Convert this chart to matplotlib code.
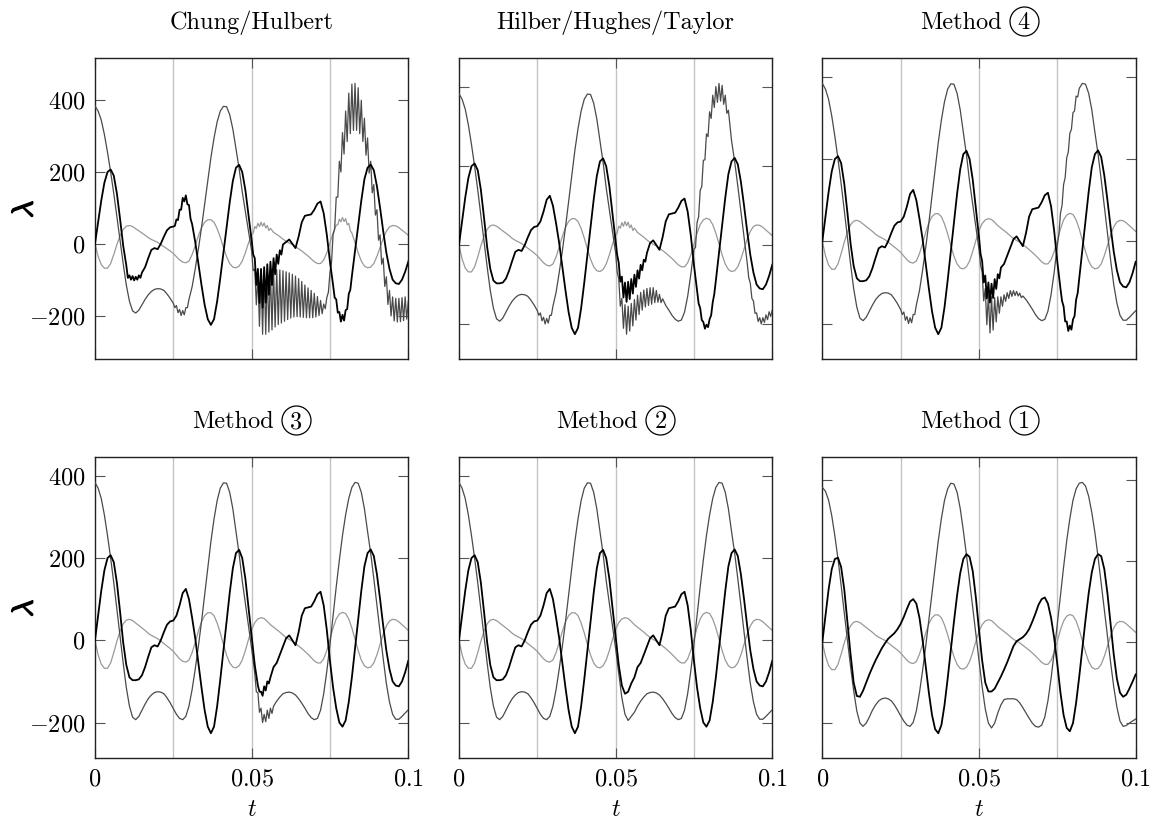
import matplotlib.pyplot as plt
import numpy as np
from matplotlib import patheffects
from matplotlib.lines import Line2D

plt.rcParams['mathtext.fontset'] = 'cm'
plt.rcParams['font.family'] = ['cmr10', 'DejaVu Sans']
plt.rcParams['axes.unicode_minus'] = False

# --- data: lambda components (step 1 ms) ---
t = np.linspace(0, 0.1, 101)

gray_all = [0, -35, -58, -68, -68, -55, -30, -2, 22, 40, 49, 51, 48, 42, 36, 30, 24, 17, 12, 8,
            4, -2, -8, -14, -20, -27, -36, -45, -51, -53, -48, -30, -5, 22, 45, 60, 67, 67, 60, 42,
            18, -10, -36, -55, -65, -67, -62, -48, -25, 2, 26, 43, 52, 55, 53, 46, 38, 32, 26, 20,
            13, 7, 2, -2, -8, -14, -20, -27, -34, -42, -50, -55, -55, -45, -25, 2, 30, 52, 64, 68,
            65, 52, 30, 3, -25, -48, -62, -67, -65, -55, -35, -10, 15, 35, 47, 51, 50, 45, 38, 31, 24]

dark_base = [384, 370, 345, 305, 255, 200, 140, 75, 10, -55, -115, -160, -187, -193, -185, -170, -155, -142, -133, -127,
             -125, -126, -130, -140, -152, -166, -180, -190, -193, -185, -160, -120, -70, -15, 45, 110, 175, 240, 295, 340,
             370, 383, 382, 360, 320, 265, 210, 145, 90, 35, -20, -80, -140, -180, -195, -185, -175, -160, -148, -138,
             -130, -127, -126, -128, -133, -142, -153, -165, -178, -188, -193, -190, -170, -130, -75, -10, 60, 130, 195, 255,
             305, 345, 372, 384, 382, 360, 320, 265, 212, 150, 85, 20, -45, -105, -150, -180, -192, -192, -185, -177, -169]

black_base = [0, 60, 120, 170, 200, 207, 190, 140, 70, -5, -60, -90, -97, -97, -95, -85, -65, -40, -17, -12,
              -15, 0, 20, 38, 46, 48, 60, 85, 115, 125, 100, 55, 5, -55, -115, -170, -210, -226, -210, -160,
              -95, -25, 45, 115, 175, 212, 220, 200, 150, 80, 10, -60, -110, -130, -125, -105, -90, -65, -55, -35,
              -15, 5, 12, 0, -12, 20, 60, 78, 80, 82, 95, 112, 118, 85, 25, -50, -115, -165, -200, -210,
              -195, -150, -90, -20, 50, 120, 180, 212, 221, 205, 160, 100, 35, -25, -70, -100, -110, -112, -100, -78, -50]

dark_m1 = [382, 372, 350, 312, 262, 205, 140, 72, 5, -60, -120, -170, -200, -208, -200, -185, -168, -155, -145, -140,
           -138, -140, -145, -155, -168, -182, -195, -205, -208, -198, -170, -125, -70, -10, 55, 120, 185, 250, 305, 350,
           378, 392, 390, 370, 330, 275, 215, 150, 85, 20, -45, -110, -165, -200, -212, -200, -175, -155, -142, -140,
           -140, -140, -142, -150, -162, -175, -188, -200, -208, -210, -205, -185, -145, -90, -25, 45, 115, 185, 250, 305,
           350, 378, 392, 394, 385, 360, 320, 270, 210, 145, 80, 15, -50, -110, -160, -195, -208, -206, -200, -195, -190]

black_m1 = [0, 65, 130, 180, 205, 208, 185, 130, 50, -30, -100, -133, -135, -120, -100, -80, -62, -45, -30, -15,
            -3, 8, 15, 22, 32, 45, 62, 82, 100, 106, 95, 60, 5, -60, -125, -180, -215, -225, -205, -155,
            -90, -20, 50, 115, 170, 205, 217, 210, 175, 110, 30, -45, -100, -122, -122, -115, -100, -85, -68, -50,
            -30, -10, 2, 7, 12, 20, 32, 50, 70, 92, 106, 110, 95, 60, 10, -55, -125, -180, -212, -220,
            -200, -150, -85, -15, 55, 120, 172, 205, 217, 212, 180, 120, 45, -30, -90, -125, -135, -130, -115, -98, -80]

# noisy stretches (start time, values every 0.5 ms)
dark_trough_noise = (0.0255, [-178, -172, -192, -183, -200, -186, -198, -178, -178, -155])
dark_chung = [dark_trough_noise,
              (0.0505, [-75, -70, -170, -90, -230, -80, -252, -75, -252, -74, -246, -73, -240, -73, -232, -72,
                        -225, -73, -221, -75, -216, -78, -211, -81, -207, -85, -204, -90, -203, -97, -204, -105,
                        -205, -115, -206, -123, -206, -130, -206, -138, -204, -147, -200, -158, -195, -168, -181,
                        -150, -135, -80, -52, 25, 42, 130, 130, 230, 200, 310, 250, 370, 285, 420, 307, 445, 316,
                        447, 316, 435, 307, 400, 285, 350, 247, 295, 197, 230, 142, 165, 80, 95, 10, 25, -57, -40,
                        -119, -92, -169, -130, -201, -148, -215, -152, -218, -152, -217, -150, -214, -148, -210,
                        -160])]
black_chung = [(0.0105, [-95, -88, -100, -90, -102, -92, -100, -88, -95, -80]),
               (0.0255, [50, 68, 66, 95, 95, 128, 118, 135, 110, 108, 70]),
               (0.0505, [-30, -40, -115, -70, -165, -70, -178, -65, -164, -57, -142, -50, -115, -40, -85, -30,
                         -56, -18, -30, -2]),
               (0.0765, [-150, -155, -192, -190, -217, -198, -214, -185, -182, -140, -128])]
dark_hht = [dark_trough_noise,
            (0.0505, [-68, -85, -155, -135, -211, -151, -226, -155, -218, -148, -205, -138, -190, -127, -176,
                      -120, -165, -114, -157, -110, -153, -108, -150, -108, -146, -115, -145, -125, -146, -136]),
            (0.0755, [-6, 57, 72, 139, 148, 215, 216, 282, 275, 338, 321, 380, 349, 402, 362, 410, 365, 405, 357,
                      380, 334, 342]),
            (0.0925, [-83, -97, -135, -142, -173, -172, -194, -184, -200, -184, -196, -177, -189, -169, -181, -165])]
black_hht = [(0.0505, [-25, -45, -93, -80, -133, -95, -144, -93, -137, -86, -123, -75, -106, -64, -85, -50, -64,
                       -37, -42, -20]),
             (0.0765, [-148, -160, -190, -195, -212, -202, -208, -188, -178, -145, -124])]
dark_m4 = [dark_trough_noise,
           (0.0505, [-58, -75, -145, -115, -203, -130, -223, -135, -216, -137, -196, -135, -175, -135, -158, -130,
                     -146, -125, -139, -120, -134, -120, -132, -122, -133, -126, -137, -133]),
           (0.0755, [17, 68, 87, 138, 155, 203, 217, 263, 272, 313, 317, 353, 351])]
black_m4 = [(0.0505, [-31, -48, -100, -83, -139, -100, -149, -103, -138, -92, -116, -80, -90, -64]),
            (0.0765, [-145, -158, -195, -195, -218, -205, -215, -190, -182, -142, -126])]
dark_m3 = [(0.0515, [-125, -128, -175, -165, -200, -180, -198, -170, -190, -165, -178])]
black_m3 = [(0.0525, [-125, -125, -135, -112, -122, -100, -105])]
gray_noisy = [(0.0505, [30, 48, 43, 57, 48, 60, 49, 58, 44, 51, 37, 43]),
              (0.0775, [53, 69, 61, 73, 62, 70, 53, 57, 36])]

titles = ['Chung/Hulbert', 'Hilber/Hughes/Taylor', 'Method 4',
          'Method 3', 'Method 2', 'Method 1']
gray_sets = [(gray_all, gray_noisy), (gray_all, gray_noisy[:1]), (gray_all, []),
             (gray_all, []), (gray_all, []), (gray_all, [])]
black_sets = [(black_base, black_chung), (black_base, black_hht), (black_base, black_m4),
              (black_base, black_m3), (black_base, []), (black_m1, [])]
dark_sets = [(dark_base, dark_chung), (dark_base, dark_hht), (dark_base, dark_m4),
             (dark_base, dark_m3), (dark_base, []), (dark_m1, [])]


def merge(base, segments):
    tt, vv = t.copy(), np.array(base, dtype=float)
    for t0, vals in segments:
        ts = t0 + 0.0005 * np.arange(len(vals))
        keep = (tt < ts[0] - 1e-9) | (tt > ts[-1] + 1e-9)
        tt = np.concatenate([tt[keep], ts])
        vv = np.concatenate([vv[keep], np.array(vals, dtype=float)])
        order = np.argsort(tt)
        tt, vv = tt[order], vv[order]
    return tt, vv


W, H = 1154, 819
fig = plt.figure(figsize=(W / 100, H / 100), dpi=100)
renderer = fig.canvas.get_renderer()
lefts = [0.0823, 0.3977, 0.7126]
bottoms = [0.5613, 0.0741]
w, h = 0.2715, 0.3675
fs = 17.5


def put_title(ax, text):
    bb = ax.get_position()
    cx = (bb.x0 + bb.x1) / 2 * W
    yb = bb.y1 * H + 29          # baseline, in pixels from the bottom
    if not text.startswith('Method'):
        fig.text(cx / W, yb / H, text, ha='center', va='baseline', fontsize=fs)
        return
    word, digit = text.split()
    probe = fig.text(0, 0, word, fontsize=fs)
    wpx = probe.get_window_extent(renderer).width
    probe.remove()
    gap, circ = 8, 29
    x0 = cx - (wpx + gap + circ) / 2
    fig.text(x0 / W, yb / H, word, ha='left', va='baseline', fontsize=fs)
    ccx = x0 + wpx + gap + circ / 2
    fig.text(ccx / W, yb / H, digit, ha='center', va='baseline', fontsize=fs)
    fig.add_artist(Line2D([ccx / W], [(yb + 8.5) / H], transform=fig.transFigure,
                          marker='o', ms=circ * 0.72, mfc='none', mec='black', mew=0.9))


for i in range(6):
    row, col = divmod(i, 3)
    ax = fig.add_axes([lefts[col], bottoms[row], w, h])
    for xv in [0.025, 0.05, 0.075]:
        ax.axvline(xv, color='#c4c4c4', lw=1.0, zorder=1)
    gt, gv = merge(*gray_sets[i])
    ax.plot(gt, gv, color='#999999', lw=0.9, zorder=2)
    dt, dv = merge(*dark_sets[i])
    ax.plot(dt, dv, color='#4a4a4a', lw=0.9, zorder=3)
    bt, bv = merge(*black_sets[i])
    ax.plot(bt, bv, color='black', lw=1.3, zorder=4)

    ax.set_xlim(0, 0.1)
    ax.margins(y=0.1)
    ax.set_yticks([-200, 0, 200, 400])
    ax.set_xticks([0, 0.05, 0.1])
    ax.tick_params(direction='in', top=True, right=True, length=7, width=0.8,
                   color='#555555', labelsize=fs, pad=7)
    for sp in ax.spines.values():
        sp.set_linewidth(1.0)
        sp.set_color('#222222')

    if col == 0:
        ax.set_yticklabels([r'$-200$', r'$0$', r'$200$', r'$400$'])
        ax.set_ylabel(r'$\lambda$', fontsize=fs + 4,
                      path_effects=[patheffects.withStroke(linewidth=1.0, foreground='black')])
        ax.yaxis.set_label_coords(-0.18, 0.5)
    else:
        ax.set_yticklabels([])
    if row == 1:
        ax.set_xticklabels([r'$0$', r'$0.05$', r'$0.1$'])
        ax.set_xlabel(r'$t$', fontsize=fs, labelpad=6)
    else:
        ax.set_xticklabels([])
    put_title(ax, titles[i])

fig.savefig('out.png', dpi=100)
